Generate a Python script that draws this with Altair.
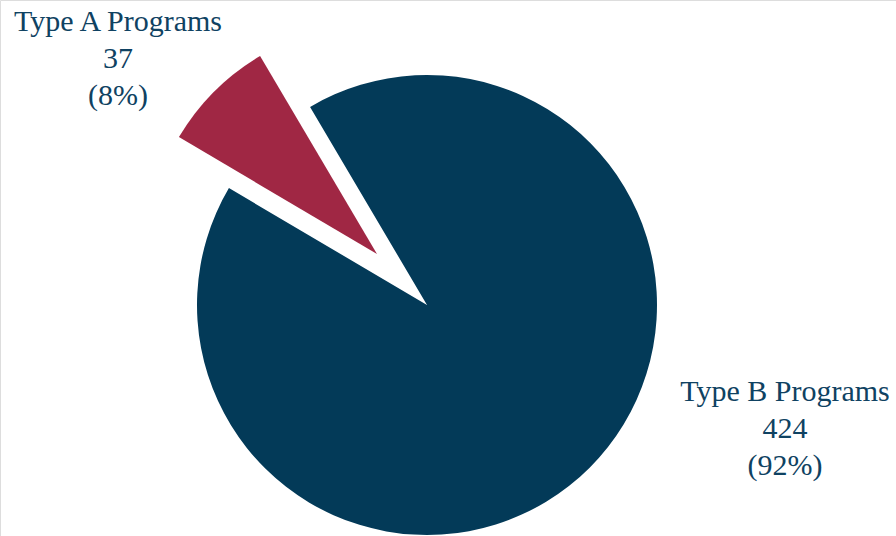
import math
import altair as alt
import pandas as pd

categories = ["Type A Programs", "Type B Programs"]
counts = [37, 424]

df = pd.DataFrame({"category": categories, "count": counts})

NAVY = "#033a58"
CRIMSON = "#a02744"
TEXT = "#0f4262"
FONT = "Liberation Serif"

start_deg = 300.55
theta_scale = alt.Scale(
    range=[math.radians(start_deg), math.radians(start_deg) + 2 * math.pi],
)

base = (
    alt.Chart(df)
    .transform_joinaggregate(total="sum(count)")
    .transform_calculate(
        pct="round(datum.count / datum.total * 100)",
        label="datum.category + '\\n' + datum.count + '\\n(' + datum.pct + '%)'",
    )
)

def arc_layer(cat, fill, cx, cy):
    return base.mark_arc(outerRadius=230).encode(
        theta=alt.Theta("count:Q", stack=True, scale=theta_scale),
        order=alt.Order("category:N", sort="ascending"),
        fill=alt.condition(alt.datum.category == cat, alt.value(fill), alt.value("transparent")),
        x=alt.value(cx),
        y=alt.value(cy),
    )

def text_layer(cat, tx, ty):
    return (
        base.transform_filter(alt.datum.category == cat)
        .mark_text(
            font=FONT, fontSize=30, color=TEXT, align="center",
            baseline="alphabetic", lineBreak="\n", lineHeight=37,
        )
        .encode(text="label:N", x=alt.value(tx), y=alt.value(ty))
    )

chart = (
    alt.layer(
        arc_layer("Type B Programs", NAVY, 427, 305),
        arc_layer("Type A Programs", CRIMSON, 377, 254),
        text_layer("Type A Programs", 118, 31),
        text_layer("Type B Programs", 785, 401),
    )
    .properties(width=896, height=536, autosize="none", padding=0)
    .configure_view(stroke=None)
    .configure(background="white")
)

chart.save("out.html", embed_options={"renderer": "svg", "actions": False})
